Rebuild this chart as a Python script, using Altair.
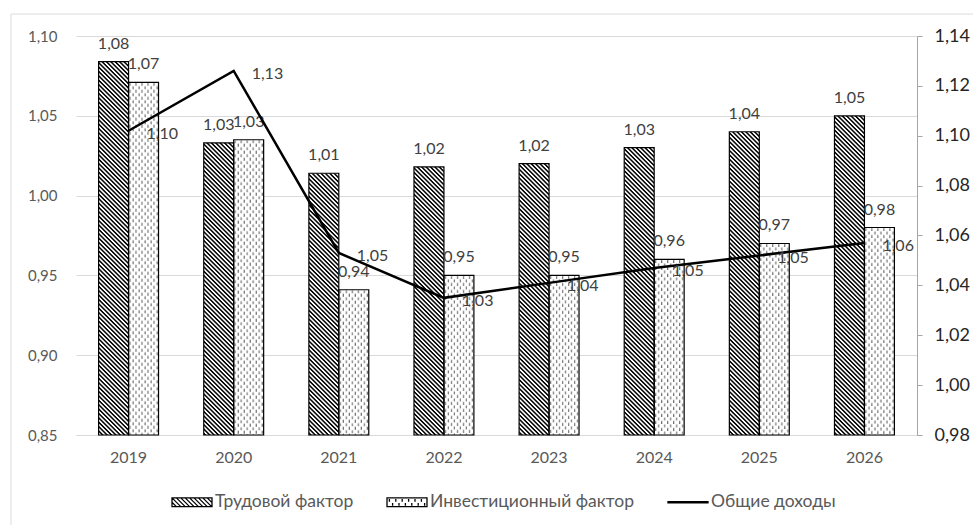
import base64
import altair as alt
import pandas as pd

# ---------------- data ----------------
years = ["2019", "2020", "2021", "2022", "2023", "2024", "2025", "2026"]
labour = [1.084, 1.033, 1.014, 1.018, 1.020, 1.030, 1.040, 1.050]
invest = [1.071, 1.035, 0.941, 0.950, 0.950, 0.960, 0.970, 0.980]
income = [1.102, 1.126, 1.053, 1.035, 1.041, 1.047, 1.052, 1.057]

S1 = "Трудовой фактор"
S2 = "Инвестиционный фактор"
S3 = "Общие доходы"

left_ticks = [0.85, 0.90, 0.95, 1.00, 1.05, 1.10]
right_ticks = [0.98, 1.00, 1.02, 1.04, 1.06, 1.08, 1.10, 1.12, 1.14]

bars_df = pd.DataFrame({
    "year": years * 2,
    "series": [S1] * len(years) + [S2] * len(years),
    "value": labour + invest,
})
line_df = pd.DataFrame({"year": years, "value": income})
legend_df = pd.DataFrame({"s": [S1, S2, S3]})

FONT = "Lato"

# ---------------- fill patterns (as svg images) ----------------
def svg_uri(defs):
    svg = ("<svg xmlns='http://www.w3.org/2000/svg' width='100%' height='100%'>"
           f"<defs>{defs}</defs>"
           "<rect width='100%' height='100%' fill='#ffffff'/>"
           "<rect width='100%' height='100%' fill='url(#p)'/></svg>")
    return "data:image/svg+xml;base64," + base64.b64encode(svg.encode()).decode()

HATCH = svg_uri("<pattern id='p' patternUnits='userSpaceOnUse' width='8' height='3.1' "
                "patternTransform='rotate(45)'><rect width='8' height='1.5' fill='#000'/></pattern>")
DOTS = svg_uri("<pattern id='p' patternUnits='userSpaceOnUse' width='6' height='7'>"
               "<rect x='1' y='0.5' width='1' height='3' fill='#555'/>"
               "<rect x='4' y='4' width='1' height='3' fill='#555'/></pattern>")

# ---------------- legend symbol paths ----------------
def hatch_path(h=0.22, step=0.22):
    parts = [f"M-1,{-h}L1,{-h}L1,{h}L-1,{h}Z"]
    x0 = -1 - 2 * h + step
    while x0 < 1:
        xa, ya, xb, yb = x0, -h, x0 + 2 * h, h
        if xa < -1:
            ya = -h + (-1 - xa)
            xa = -1
        if xb > 1:
            yb = h - (xb - 1)
            xb = 1
        parts.append(f"M{xa:.3f},{ya:.3f}L{xb:.3f},{yb:.3f}")
        x0 += step
    return "".join(parts)


def dots_path(h=0.22):
    parts = [f"M-1,{-h}L1,{-h}L1,{h}L-1,{h}Z"]
    k = 0
    x = -0.88
    while x < 0.95:
        if k % 2 == 0:
            parts.append(f"M{x:.3f},{-h + 0.06:.3f}L{x:.3f},{-0.02:.3f}")
        else:
            parts.append(f"M{x:.3f},{0.04:.3f}L{x:.3f},{h - 0.05:.3f}")
        x += 0.16
        k += 1
    return "".join(parts)


LINE_PATH = "M-1,-0.03L1,-0.03L1,0.03L-1,0.03Z"

# ---------------- encodings ----------------
x_enc = alt.X(
    "year:N", sort=years, title=None,
    scale=alt.Scale(paddingInner=0.43, paddingOuter=0.215),
    axis=alt.Axis(labelAngle=0, labelFont=FONT, labelFontSize=16, labelColor="#595959",
                  ticks=False, domain=True, domainColor="#d9d9d9", labelPadding=14),
)
xoff_enc = alt.XOffset("series:N", sort=[S1, S2], scale=alt.Scale(paddingInner=0, paddingOuter=0))

y_left = alt.Y(
    "value:Q", title=None,
    scale=alt.Scale(domain=[0.85, 1.10], zero=False, nice=False),
    axis=alt.Axis(values=left_ticks, format=".2f", grid=True, gridColor="#d9d9d9",
                  domain=False, ticks=False, labelFont=FONT, labelFontSize=15,
                  labelColor="#595959", labelPadding=19),
)
y_right = alt.Y(
    "value:Q", title=None,
    scale=alt.Scale(domain=[0.98, 1.14], zero=False, nice=False),
    axis=alt.Axis(orient="right", values=right_ticks, format=".2f", grid=False,
                  domainColor="#a6a6a6", tickColor="#a6a6a6", tickSize=5,
                  labelFont=FONT, labelFontSize=18, labelColor="#262626", labelPadding=12),
)

base_bars = alt.Chart(bars_df)

images = base_bars.transform_calculate(
    u=f"datum.series === '{S1}' ? '{HATCH}' : '{DOTS}'"
).mark_image(aspect=False).encode(
    x=x_enc, xOffset=xoff_enc, y=y_left, y2=alt.datum(0.85), url=alt.Url("u:N")
)

outlines = base_bars.mark_bar(fill="white", fillOpacity=0, stroke="black", strokeWidth=1.2).encode(
    x=x_enc, xOffset=xoff_enc, y=y_left, y2=alt.datum(0.85)
)

bar_labels = base_bars.mark_text(
    baseline="alphabetic", dy=-13, font=FONT, fontSize=16, color="#404040"
).encode(x=x_enc, xOffset=xoff_enc, y=y_left, text=alt.Text("value:Q", format=".2f"))

left_group = alt.layer(images, outlines, bar_labels)

base_line = alt.Chart(line_df)
line = base_line.mark_line(color="black", strokeWidth=2.5).encode(x=x_enc, y=y_right)
line_labels = base_line.mark_text(
    align="left", baseline="middle", dx=18, dy=3, font=FONT, fontSize=16, color="#404040"
).encode(x=x_enc, y=y_right, text=alt.Text("value:Q", format=".2f"))

right_group = alt.layer(line, line_labels)

# outer frame lines
frame_data = alt.Data(values=[{"k": 1}])
frame_top = alt.Chart(frame_data).mark_rule(color="#dcdcdc", strokeWidth=1).encode(
    x=alt.value(-65), x2=alt.value(905), y=alt.value(-22)
)
frame_left = alt.Chart(frame_data).mark_rule(color="#dcdcdc", strokeWidth=1).encode(
    x=alt.value(-65), y=alt.value(-22), y2=alt.value(500)
)

# legend helper (points drawn off-canvas, only their legend is shown)
legend_layer = alt.Chart(legend_df).mark_point(
    filled=False, color="black", strokeWidth=1.3
).encode(
    shape=alt.Shape(
        "s:N",
        scale=alt.Scale(domain=[S1, S2, S3], range=[hatch_path(), dots_path(), LINE_PATH]),
        legend=alt.Legend(
            title=None, orient="none", legendX=95, legendY=445, direction="horizontal",
            columns=3, symbolSize=1600, symbolStrokeWidth=1.3,
            symbolStrokeColor="black", symbolOpacity=1, labelFont=FONT, labelFontSize=17.5,
            labelColor="#595959", labelOffset=2, columnPadding=30, padding=0, labelLimit=0,
        ),
    ),
    x=alt.value(-3000),
    y=alt.value(-3000),
)

chart = alt.layer(frame_top, frame_left, left_group, right_group, legend_layer).resolve_scale(
    y="independent"
).properties(
    width=841, height=399,
    padding={"left": 76, "top": 36, "right": 56, "bottom": 90},
    autosize=alt.AutoSizeParams(type="none"),
).configure(
    font=FONT,
    locale=alt.Locale(number=alt.NumberLocale(decimal=",", thousands=" ", grouping=[3],
                                              currency=["", ""])),
).configure_view(stroke=None)

chart.save("out.html", embed_options={"renderer": "svg", "actions": False})
